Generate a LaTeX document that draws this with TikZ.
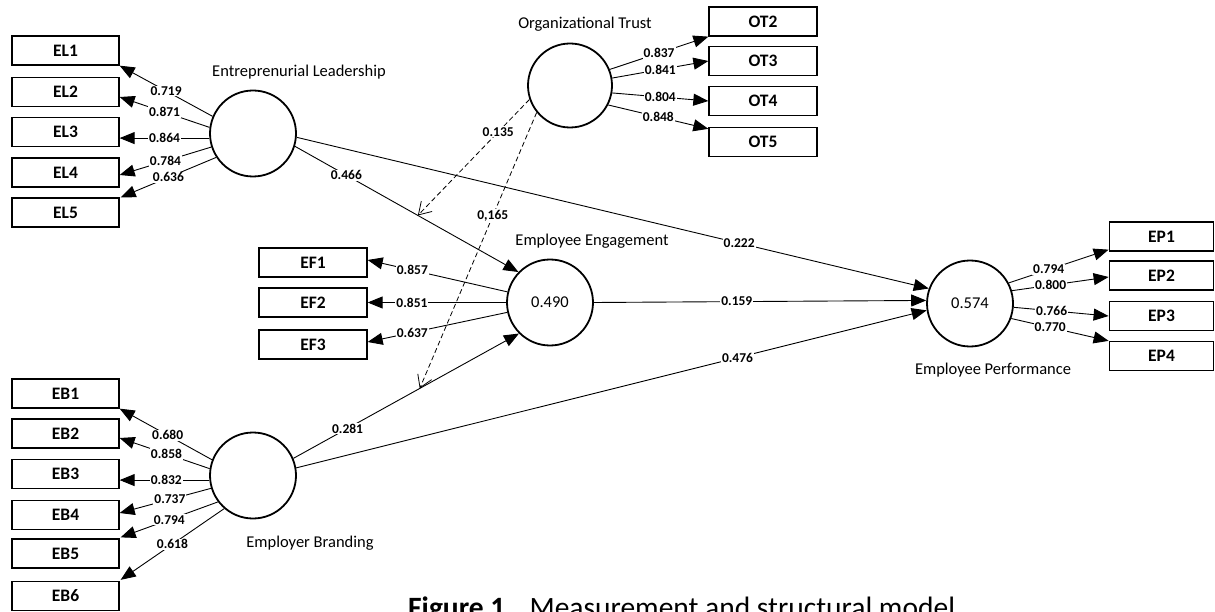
\documentclass[tikz,border=0pt]{standalone}
\usepackage{fontspec}
\setmainfont{Carlito}
\usetikzlibrary{arrows.meta,calc}
\begin{document}
\begin{tikzpicture}[x=1pt,y=-1pt,
 lat/.style={circle,draw,line width=1.8pt,minimum size=86pt,inner sep=0pt,font=\fontsize{16.5}{18}\selectfont},
 ind/.style={rectangle,draw,line width=1.3pt,minimum width=107pt,minimum height=29pt,inner sep=0pt,font=\bfseries\fontsize{17.5}{19}\selectfont},
 load/.style={line width=0.9pt,-{Triangle[length=15pt,width=12pt]}},
 wt/.style={fill=white,inner sep=1pt,font=\bfseries\fontsize{13.5}{14}\selectfont},
 latname/.style={font=\fontsize{16.5}{18}\selectfont},
 modpath/.style={dashed,dash pattern=on 5pt off 3pt,line width=0.8pt,-{Straight Barb[length=12pt,width=15pt,line width=0.8pt]}}
]
\clip (0,0) rectangle (1215,612);
\fill[white] (0,0) rectangle (1215,612);

% latent variables
\node[lat] (EL) at (253,133.5) {};
\node[lat] (EB) at (253,475.5) {};
\node[lat,minimum size=84pt] (OT) at (570,85.5) {};
\node[lat] (EE) at (550,302.5) {0.490};
\node[lat] (EP) at (970,303.5) {0.574};

\node[latname] (ELn) at (299,72) {Entreprenurial Leadership};
\node[latname] (OTn) at (585,24) {Organizational Trust};
\node[latname] (EEn) at (592,241) {Employee Engagement};
\node[latname] (EBn) at (310,543) {Employer Branding};
\node[latname] (EPn) at (993,370) {Employee Performance};

% indicators
\node[ind] (EL1) at (65.5,50.5) {EL1};
\node[ind] (EL2) at (65.5,92) {EL2};
\node[ind] (EL3) at (65.5,132) {EL3};
\node[ind] (EL4) at (65.5,172.5) {EL4};
\node[ind] (EL5) at (65.5,212.5) {EL5};

\node[ind] (EB1) at (65.5,393.5) {EB1};
\node[ind] (EB2) at (65.5,433.5) {EB2};
\node[ind] (EB3) at (65.5,474) {EB3};
\node[ind] (EB4) at (65.5,515) {EB4};
\node[ind] (EB5) at (65.5,553.5) {EB5};
\node[ind] (EB6) at (65.5,596) {EB6};

\node[ind,minimum width=108pt] (OT2) at (763,21.5) {OT2};
\node[ind,minimum width=108pt] (OT3) at (763,61) {OT3};
\node[ind,minimum width=108pt] (OT4) at (763,101) {OT4};
\node[ind,minimum width=108pt] (OT5) at (763,142) {OT5};

\node[ind,minimum width=108pt] (EF1) at (313,262.5) {EF1};
\node[ind,minimum width=108pt] (EF2) at (313,302.5) {EF2};
\node[ind,minimum width=108pt] (EF3) at (313,344.5) {EF3};

\node[ind,minimum width=104.5pt] (EP1) at (1161.5,236.5) {EP1};
\node[ind,minimum width=104.5pt] (EP2) at (1161.5,275.5) {EP2};
\node[ind,minimum width=104.5pt] (EP3) at (1161.5,316) {EP3};
\node[ind,minimum width=104.5pt] (EP4) at (1161.5,356) {EP4};

% EL loadings
\draw[load] (EL.157) -- node[wt,pos=0.5]{0.719} (EL1.south east);
\draw[load] (EL.172) -- node[wt,pos=0.5]{0.871} ($(EL2.east)+(0,5)$);
\draw[load] (EL.186) -- node[wt,pos=0.5]{0.864} (EL.186 -| EL3.east);
\draw[load] (EL.198) -- node[wt,pos=0.5]{0.784} ($(EL4.east)+(0,2.5)$);
\draw[load] (EL.213) -- node[wt,pos=0.5]{0.636} ($(EL5.north east)+(1,0)$);

% EB loadings
\draw[load] (EB.159) -- node[wt,pos=0.48]{0.680} (EB1.south east);
\draw[load] (EB.171) -- node[wt,pos=0.48]{0.858} ($(EB2.east)+(0,4.5)$);
\draw[load] (EB.186) -- node[wt,pos=0.48]{0.832} (EB.186 -| EB3.east);
\draw[load] (EB.197) -- node[wt,pos=0.45]{0.737} ($(EB4.east)+(0,-2)$);
\draw[load] (EB.217) -- node[wt,pos=0.5]{0.794} ($(EB5.north east)+(1,-1)$);
\draw[load] (EB.229) -- node[wt,pos=0.5]{0.618} ($(EB6.north east)+(1,-1)$);

% OT loadings
\draw[load] (OT.22) -- node[wt,pos=0.5]{0.837} (OT2.south west);
\draw[load] (OT.10) -- node[wt,pos=0.5]{0.841} (OT3.west);
\draw[load] (OT.-10) -- node[wt,pos=0.5]{0.804} (OT4.west);
\draw[load] (OT.-27) -- node[wt,pos=0.5]{0.848} ($(OT5.north west)+(0,2)$);

% EF loadings
\draw[load] (EE.166) -- node[wt,pos=0.68]{0.857} ($(EF1.east)+(0,-2.5)$);
\draw[load] (EE.180) -- node[wt,pos=0.68]{0.851} (EE.180 -| EF2.east);
\draw[load] (EE.193) -- node[wt,pos=0.68]{0.637} ($(EF3.east)+(0,-2.5)$);

% EP loadings
\draw[load] (EP.28) -- node[wt,pos=0.4]{0.794} ($(EP1.south west)+(0,-2)$);
\draw[load] (EP.17) -- node[wt,pos=0.4]{0.800} ($(EP2.west)+(0,1.5)$);
\draw[load] (EP.-5) -- node[wt,pos=0.4]{0.766} (EP3.west);
\draw[load] (EP.-20) -- node[wt,pos=0.4]{0.770} (EP4.north west);

% structural paths
\draw[load] (EL.-17) -- node[wt,pos=0.23]{0.466} coordinate[pos=0.55] (m1) (EE.136);
\draw[load] (EL.-5) -- node[wt,pos=0.70]{0.222} (EP.160);
\draw[load] (EE.0) -- node[wt,pos=0.43]{0.159} (EP.176);
\draw[load] (EB.23) -- node[wt,pos=0.24]{0.281} coordinate[pos=0.56] (m2) (EE.225);
\draw[load] (EB.10) -- node[wt,pos=0.70]{0.476} (EP.189);

% moderation
\draw[modpath] (OT.199) -- node[wt,pos=0.28]{0.135} (m1);
\draw[modpath] (OT.219) -- node[wt,pos=0.375]{0,165} (m2);

% caption (cut by the picture edge)
\node[anchor=base west,inner sep=0pt,font=\fontsize{29.5}{32}\selectfont] (cap) at (408,617) {\textbf{Figure 1.}\hspace{0.55em}Measurement and structural model};
\end{tikzpicture}
\end{document}
